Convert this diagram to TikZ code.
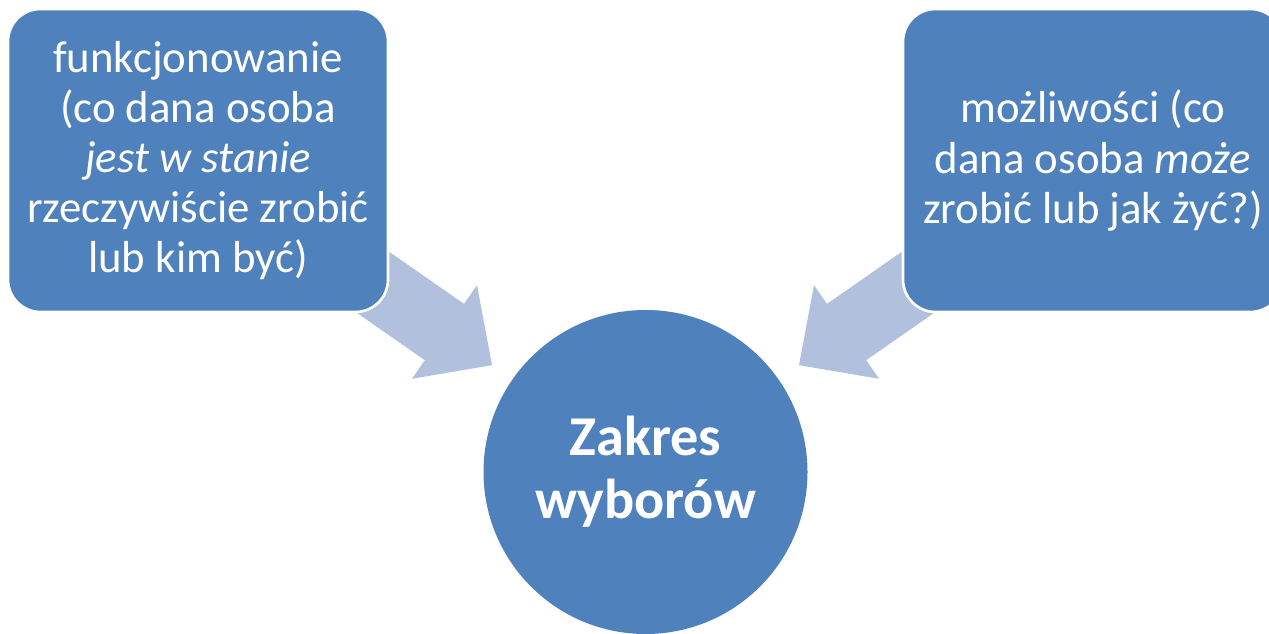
\documentclass[tikz,border=0pt]{standalone}
\usepackage{fontspec}
\setmainfont{Carlito}
\usepackage{xcolor}
\usepackage{tikz}
\usetikzlibrary{positioning,calc,backgrounds}

\definecolor{boxblue}{RGB}{79,129,189}
\definecolor{arrowblue}{RGB}{176,192,221}

\begin{document}
\begin{tikzpicture}[>=stealth,thick]

\tikzstyle{box}=[rectangle,rounded corners=0.65cm,fill=boxblue,draw=white,line width=1.5pt,minimum width=7.6cm,minimum height=6.06cm,text=white,align=center,font=\fontsize{25.5}{28.5}\selectfont]
\tikzstyle{target}=[circle,fill=boxblue,minimum size=6.48cm,text=white,align=center,font=\fontsize{32}{36}\selectfont\bfseries]

\useasboundingbox (0,0) rectangle (25.38,12.68);
\clip (0,0) rectangle (25.38,12.68);

\node[box] (fun) at (3.96,9.47) {funkcjonowanie\\(co dana osoba\\\textit{jest w stanie}\\rzeczywiście zrobić\\lub kim być)};
\node[box] (moz) at (21.86,9.47) {możliwości (co\\dana osoba \textit{może}\\zrobić lub jak żyć?)};
\node[target] (zak) at (12.91,3.24) {Zakres\\wyborów};

% block arrows behind the boxes
\begin{scope}[on background layer]
\foreach \a in {fun,moz} {
    \coordinate (h) at ($(zak)!4.9cm!(\a)$);
    \coordinate (s) at ($(zak)!10cm!(\a)$);
    \fill[arrowblue] ($(zak)!3.74cm!(\a)$) -- ($(h)!1.14cm!90:(\a)$) -- ($(h)!0.686cm!90:(\a)$)
        -- ($(s)!0.686cm!-90:(zak)$) -- ($(s)!0.686cm!90:(zak)$)
        -- ($(h)!0.686cm!-90:(\a)$) -- ($(h)!1.14cm!-90:(\a)$) -- cycle;
}
\end{scope}

\end{tikzpicture}
\end{document}
